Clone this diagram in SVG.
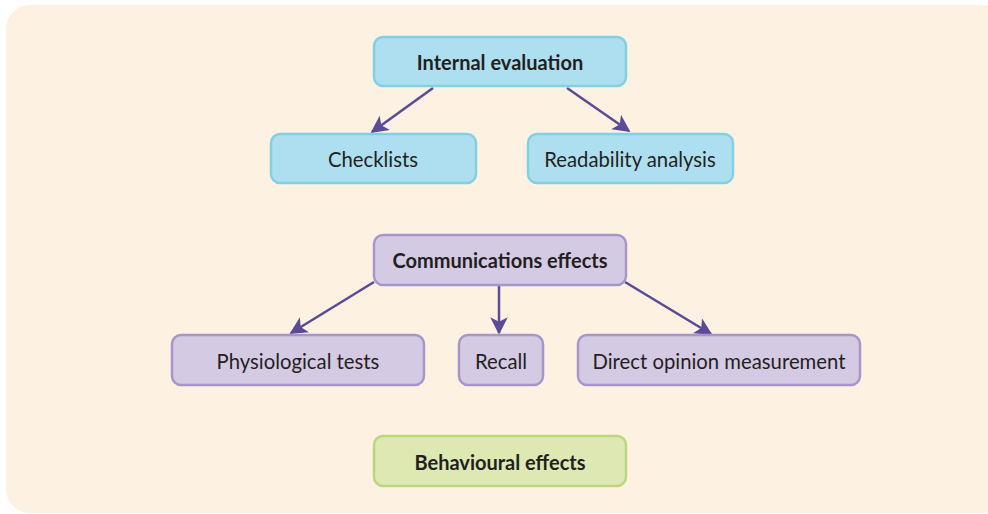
<svg xmlns="http://www.w3.org/2000/svg" width="988" height="514" viewBox="0 0 988 514">
<defs>
<style>
.blue rect{fill:#addff0;stroke:#80d2e2;stroke-width:2.5}
.purple rect{fill:#d5cae3;stroke:#a696cc;stroke-width:2.5}
.green rect{fill:#dde8b3;stroke:#bdd57c;stroke-width:2.5}
text{font-family:Lato,"Open Sans",sans-serif;fill:#231f20;text-anchor:middle;dominant-baseline:central}
.b{font-weight:bold;font-size:20px}
.r{font-size:20.3px}
#connectors line{stroke:#5a4a98;stroke-width:2.5;marker-end:url(#ah)}
</style>
<marker id="ah" viewBox="0 0 10 10" refX="9" refY="5" markerWidth="7" markerHeight="7" orient="auto" markerUnits="strokeWidth">
<path d="M0,0 L10,5 L0,10 L2.5,5 Z" fill="#5a4a98"/>
</marker>
</defs>
<rect x="6" y="5" width="1000" height="508" rx="24" fill="#fdf1e2"/>
<g id="connectors">
<line x1="433" y1="88" x2="372" y2="132"/>
<line x1="567" y1="88" x2="629" y2="131"/>
<line x1="374" y1="282" x2="291" y2="333"/>
<line x1="499" y1="286" x2="499" y2="333"/>
<line x1="625" y1="282" x2="711" y2="334"/>
</g>
<g id="internal" class="blue"><rect x="374" y="37" width="252" height="49" rx="9"/><text class="b" x="500" y="62">Internal evaluation</text></g>
<g id="checklists" class="blue"><rect x="271" y="134" width="205" height="49" rx="9"/><text class="r" x="373" y="159">Checklists</text></g>
<g id="readability" class="blue"><rect x="528" y="134" width="205" height="49" rx="9"/><text class="r" x="630" y="159">Readability analysis</text></g>
<g id="communications" class="purple"><rect x="374" y="235" width="252" height="50" rx="9"/><text class="b" x="500" y="260">Communications effects</text></g>
<g id="physiological" class="purple"><rect x="172" y="335" width="252" height="50" rx="9"/><text class="r" x="298" y="361">Physiological tests</text></g>
<g id="recall" class="purple"><rect x="459" y="335" width="84" height="50" rx="9"/><text class="r" x="501" y="361">Recall</text></g>
<g id="direct" class="purple"><rect x="578" y="335" width="282" height="50" rx="9"/><text class="r" x="719" y="361">Direct opinion measurement</text></g>
<g id="behavioural" class="green"><rect x="374" y="436" width="252" height="50" rx="9"/><text class="b" x="500" y="462">Behavioural effects</text></g>
</svg>
